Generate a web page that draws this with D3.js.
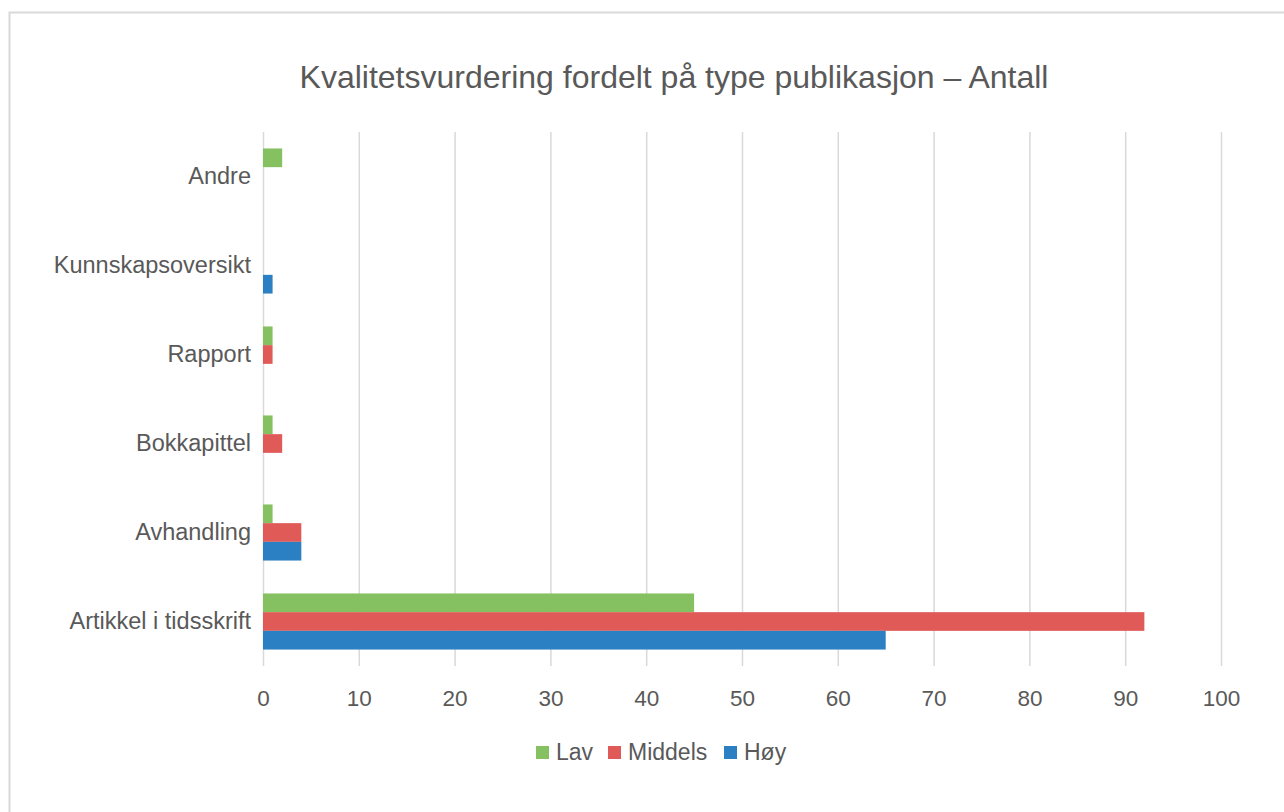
<!DOCTYPE html>
<html>
<head>
<meta charset="utf-8">
<script src="https://cdn.jsdelivr.net/npm/d3@7"></script>
<style>
  body { margin: 0; background: #fff; }
  svg { font-family: "Liberation Sans", Arial, sans-serif; }
</style>
</head>
<body>
<script>
    // data
    var categories = ['Andre', 'Kunnskapsoversikt', 'Rapport', 'Bokkapittel', 'Avhandling', 'Artikkel i tidsskrift'];
    var seriesNames = ['Lav', 'Middels', 'Høy'];
    var lav = [2, 0, 1, 1, 1, 45];
    var middels = [0, 0, 1, 2, 4, 92];
    var hoy = [0, 1, 0, 0, 4, 65];
    var xTicks = [0, 10, 20, 30, 40, 50, 60, 70, 80, 90, 100];
    var colors = ['#85c160', '#e05a58', '#2a80c2'];

    var width = 1284;
    var height = 812;
    var plotLeft = 263, plotRight = 1221, plotTop = 132, plotBottom = 666;

    var svg = d3.select('body')
        .append('svg')
        .attr('width', width)
        .attr('height', height);

    // chart border (cropped on right/bottom like the original)
    svg.append('rect')
        .attr('x', 9.5).attr('y', 12.5)
        .attr('width', 1400).attr('height', 900)
        .attr('fill', '#fff')
        .attr('stroke', '#d9d9d9')
        .attr('stroke-width', 2);

    svg.append('text')
        .attr('x', 674)
        .attr('y', 88)
        .attr('text-anchor', 'middle')
        .attr('font-size', 32)
        .attr('fill', '#595959')
        .text('Kvalitetsvurdering fordelt på type publikasjon – Antall');

    var xScale = d3.scaleLinear().domain([0, 100]).range([plotLeft, plotRight]);
    var yScale = d3.scaleBand().domain(categories).range([plotTop, plotBottom]);
    var inner = d3.scaleBand().domain(seriesNames)
        .range([0, yScale.bandwidth()])
        .paddingOuter(0.88);

    // gridlines via axis
    var grid = d3.axisBottom(xScale).tickValues(xTicks).tickSize(-(plotBottom - plotTop)).tickFormat('');
    svg.append('g')
        .attr('transform', 'translate(0,' + plotBottom + ')')
        .call(grid)
        .call(g => g.select('.domain').remove())
        .call(g => g.selectAll('line').attr('stroke', '#d9d9d9').attr('stroke-width', 1.5));

    // x tick labels
    var xAxis = d3.axisBottom(xScale).tickValues(xTicks).tickSize(0).tickPadding(0);
    svg.append('g')
        .attr('transform', 'translate(0,' + (plotBottom + 32) + ')')
        .call(xAxis)
        .call(g => g.select('.domain').remove())
        .call(g => g.selectAll('text')
            .attr('font-size', 22.5)
            .attr('font-family', '"Liberation Sans", Arial, sans-serif')
            .attr('fill', '#595959')
            .attr('dy', '0.35em'));

    // y axis labels
    var yAxis = d3.axisLeft(yScale).tickSize(0).tickPadding(12);
    svg.append('g')
        .attr('transform', 'translate(' + plotLeft + ',0)')
        .call(yAxis)
        .call(g => g.select('.domain').remove())
        .call(g => g.selectAll('text')
            .attr('font-size', 23.5)
            .attr('font-family', '"Liberation Sans", Arial, sans-serif')
            .attr('fill', '#595959'));

    var series = [lav, middels, hoy];
    series.forEach((vals, si) => {
        svg.append('g')
            .selectAll('rect')
            .data(vals)
            .enter()
            .append('rect')
            .attr('x', xScale(0))
            .attr('y', (d, i) => yScale(categories[i]) + inner(seriesNames[si]))
            .attr('width', d => xScale(d) - xScale(0))
            .attr('height', inner.bandwidth())
            .attr('fill', colors[si]);
    });

    // legend
    var legendX = [536, 608, 724];
    var legend = svg.append('g');
    seriesNames.forEach((name, i) => {
        legend.append('rect')
            .attr('x', legendX[i]).attr('y', 746)
            .attr('width', 13).attr('height', 13)
            .attr('fill', colors[i]);
        legend.append('text')
            .attr('x', legendX[i] + 20).attr('y', 752)
            .attr('dy', '0.35em')
            .attr('font-size', 23)
            .attr('fill', '#595959')
            .text(name);
    });
</script>
</body>
</html>
